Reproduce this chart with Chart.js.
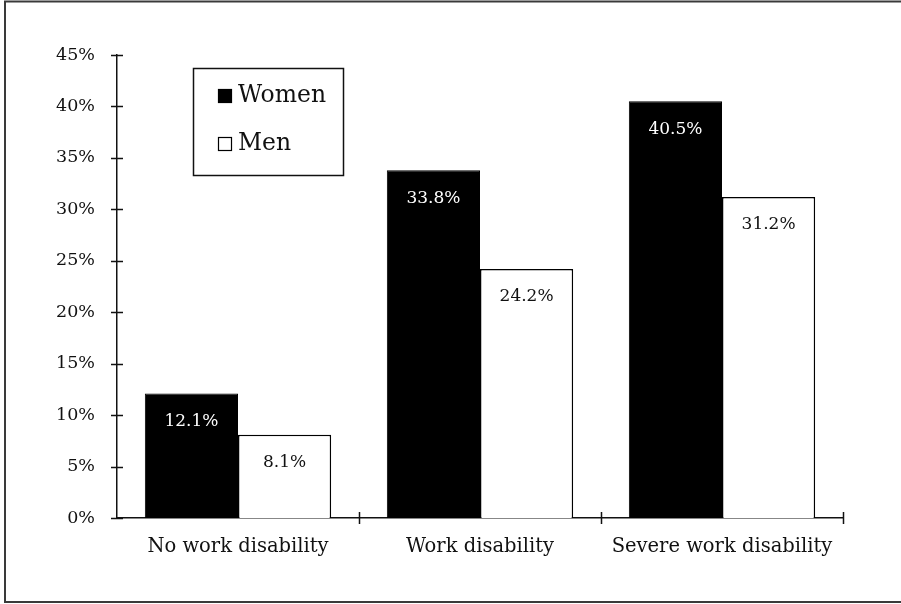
<!DOCTYPE html>
<html>
<head>
<meta charset="utf-8">
<script src="https://cdn.jsdelivr.net/npm/chart.js@4.4.1/dist/chart.umd.min.js"></script>
<style>
  html, body { margin: 0; padding: 0; background: #fff; }
  canvas { display: block; }
</style>
</head>
<body>
<canvas id="chart" width="901" height="604"></canvas>
<script>
// Share of people in each disability group, by sex
const categories = ['No work disability', 'Work disability', 'Severe work disability'];
const womenValues = [12.1, 33.8, 40.5];
const menValues = [8.1, 24.2, 31.2];
const seriesNames = ['Women', 'Men'];
const yTickValues = [0, 5, 10, 15, 20, 25, 30, 35, 40, 45];

const FONT = '"DejaVu Serif", serif';
const INK = '#111';

// White page with a frame on the left, top and bottom (open on the right)
const framePlugin = {
  id: 'frame',
  beforeDraw(chart) {
    const ctx = chart.ctx;
    ctx.save();
    ctx.fillStyle = '#fff';
    ctx.fillRect(0, 0, chart.width, chart.height);
    ctx.strokeStyle = '#3a3a3a';
    ctx.lineWidth = 2;
    ctx.lineCap = 'butt';
    ctx.beginPath();
    ctx.moveTo(chart.width, 1.5);
    ctx.lineTo(5, 1.5);
    ctx.lineTo(5, chart.height - 2);
    ctx.lineTo(chart.width, chart.height - 2);
    ctx.stroke();
    ctx.restore();
  }
};

// Tick marks that cross both axes
const crossTicksPlugin = {
  id: 'crossTicks',
  afterDraw(chart) {
    const ctx = chart.ctx;
    const y = chart.scales.y;
    const area = chart.chartArea;
    ctx.save();
    ctx.strokeStyle = INK;
    ctx.lineWidth = 1.5;
    ctx.beginPath();
    y.ticks.forEach((t, i) => {
      const py = Math.round(y.getPixelForTick(i)) + 0.5;
      ctx.moveTo(area.left - 6, py);
      ctx.lineTo(area.left + 6, py);
    });
    const n = categories.length;
    const step = (area.right - area.left) / n;
    for (let k = 1; k <= n; k++) {
      const px = Math.round(area.left + k * step) + 0.5;
      ctx.moveTo(px, area.bottom - 6);
      ctx.lineTo(px, area.bottom + 6);
    }
    ctx.stroke();
    ctx.restore();
  }
};

// Value labels placed inside the top of each bar
const valueLabelPlugin = {
  id: 'valueLabels',
  afterDatasetsDraw(chart) {
    const ctx = chart.ctx;
    ctx.save();
    ctx.font = '17px ' + FONT;
    ctx.textAlign = 'center';
    ctx.textBaseline = 'middle';
    chart.data.datasets.forEach((ds, di) => {
      const meta = chart.getDatasetMeta(di);
      meta.data.forEach((bar, i) => {
        ctx.fillStyle = ds.labelColor;
        ctx.fillText(ds.data[i].toFixed(1) + '%', bar.x, bar.y + 28);
      });
    });
    ctx.restore();
  }
};

// Boxed legend inside the plot area
const boxLegendPlugin = {
  id: 'boxLegend',
  afterDraw(chart, args, opts) {
    const ctx = chart.ctx;
    const bx = opts.x, by = opts.y, bw = opts.w, bh = opts.h;
    ctx.save();
    ctx.fillStyle = '#fff';
    ctx.fillRect(bx, by, bw, bh);
    ctx.strokeStyle = INK;
    ctx.lineWidth = 1.5;
    ctx.strokeRect(bx + 0.5, by + 0.5, bw, bh);
    ctx.font = '23.5px ' + FONT;
    ctx.textBaseline = 'middle';
    ctx.textAlign = 'left';
    chart.data.datasets.forEach((ds, i) => {
      const cy = by + 28 + i * 48;
      const sx = bx + 25, s = 14;
      ctx.fillStyle = ds.backgroundColor;
      ctx.fillRect(sx, cy - s / 2, s, s);
      ctx.strokeStyle = '#000';
      ctx.lineWidth = 1.2;
      ctx.strokeRect(sx + 0.5, cy - s / 2 + 0.5, s - 1, s - 1);
      ctx.fillStyle = INK;
      ctx.fillText(ds.label, sx + s + 6, cy);
    });
    ctx.restore();
  }
};

new Chart(document.getElementById('chart'), {
  type: 'bar',
  data: {
    labels: categories,
    datasets: [
      {
        label: seriesNames[0],
        data: womenValues,
        backgroundColor: '#000',
        borderColor: '#000',
        borderWidth: 1,
        labelColor: '#fff'
      },
      {
        label: seriesNames[1],
        data: menValues,
        backgroundColor: '#fff',
        borderColor: '#000',
        borderWidth: 1.5,
        labelColor: INK
      }
    ]
  },
  options: {
    responsive: false,
    animation: false,
    layout: { padding: { top: 55, right: 58, left: 0, bottom: 0 } },
    datasets: {
      bar: { categoryPercentage: 0.77, barPercentage: 1.0, borderSkipped: 'bottom' }
    },
    scales: {
      x: {
        grid: { display: false },
        border: { display: true, color: INK, width: 1.5 },
        ticks: { color: INK, font: { family: FONT, size: 19.5 }, padding: 9, maxRotation: 0 },
        afterFit(s) { s.height = 86; }
      },
      y: {
        min: 0,
        max: 45,
        afterBuildTicks(s) { s.ticks = yTickValues.map(v => ({ value: v })); },
        grid: { display: false },
        border: { display: true, color: INK, width: 1.5 },
        ticks: {
          color: INK,
          font: { family: FONT, size: 17.5 },
          padding: 14,
          callback: v => v + '%'
        },
        afterFit(s) { s.width = 117; }
      }
    },
    plugins: {
      legend: { display: false },
      tooltip: { enabled: false },
      boxLegend: { x: 193, y: 68, w: 150, h: 107 }
    }
  },
  plugins: [framePlugin, crossTicksPlugin, valueLabelPlugin, boxLegendPlugin]
});
</script>
</body>
</html>
